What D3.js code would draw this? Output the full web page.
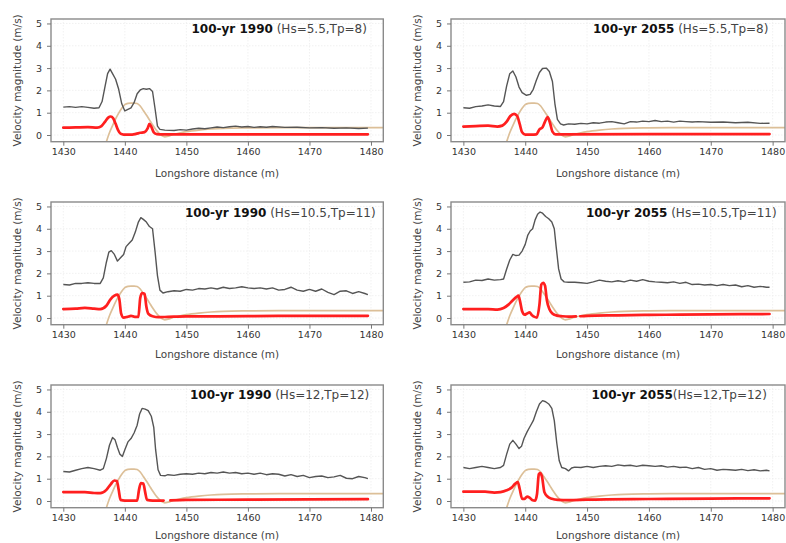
<!DOCTYPE html>
<html>
<head>
<meta charset="utf-8">
<script src="https://cdn.jsdelivr.net/npm/d3@7"></script>
<style>
  html, body { margin: 0; padding: 0; background: #fff; }
  svg { display: block; }
  text { font-family: "DejaVu Sans", Verdana, sans-serif; }
</style>
</head>
<body>
<svg id="chart" width="786" height="543"></svg>
<script>
// ---------------- DATA ----------------
const xTicks = [1430, 1440, 1450, 1460, 1470, 1480];
const yTicks = [0, 1, 2, 3, 4, 5];
const xLabel = "Longshore distance (m)";
const yLabel = "Velocity magnitude (m/s)";

const titlesBold = ["100-yr 1990", "100-yr 2055", "100-yr 1990", "100-yr 2055", "100-yr 1990", "100-yr 2055"];
const titlesRest = [" (Hs=5.5,Tp=8)", " (Hs=5.5,Tp=8)", " (Hs=10.5,Tp=11)", " (Hs=10.5,Tp=11)", " (Hs=12,Tp=12)", "(Hs=12,Tp=12)"];

// reef / bed profile (tan), shared by all panels
const profile = [[1437,-0.3],[1437.5,0.1],[1438,0.42],[1438.5,0.72],[1439,0.98],[1439.5,1.2],[1440,1.36],[1440.5,1.42],[1441,1.43],[1441.5,1.43],[1442,1.41],[1442.5,1.3],[1443,1.1],[1443.5,0.9],[1444,0.68],[1444.5,0.46],[1445,0.26],[1445.5,0.1],[1446,-0.02],[1446.5,-0.08],[1447,-0.05],[1448,0.04],[1449,0.1],[1450,0.15],[1452,0.22],[1454,0.27],[1456,0.3],[1460,0.32],[1465,0.33],[1470,0.33],[1475,0.33],[1482,0.33]];

// velocity magnitude (grey) per panel
const vel1990_55 = [[1430,1.25],[1431,1.27],[1432,1.24],[1433,1.27],[1434,1.24],[1435,1.2],[1435.8,1.22],[1436.3,1.5],[1436.8,2.2],[1437.2,2.75],[1437.6,2.95],[1438,2.75],[1438.5,2.5],[1439,2.05],[1439.5,1.4],[1440,1.08],[1440.5,1.15],[1441,1.22],[1441.5,1.45],[1442,1.85],[1442.5,2.02],[1443,2.08],[1443.5,2.05],[1444,2.08],[1444.5,1.95],[1444.9,1.2],[1445.3,0.4],[1445.7,0.25],[1446.5,0.22],[1448,0.2],[1449,0.24],[1450,0.22],[1451,0.27],[1452,0.3],[1453,0.28],[1454,0.32],[1455,0.36],[1456,0.33],[1457,0.37],[1458,0.4],[1459,0.36],[1460,0.38],[1461,0.34],[1462,0.37],[1463,0.35],[1464,0.38],[1466,0.34],[1468,0.35],[1470,0.32],[1472,0.33],[1474,0.3],[1476,0.32],[1478,0.29],[1479.5,0.31]];
const vel2055_55 = [[1430,1.22],[1431,1.2],[1432,1.27],[1433,1.3],[1434,1.35],[1435,1.3],[1436,1.28],[1436.5,1.5],[1437,2.2],[1437.5,2.75],[1438,2.87],[1438.5,2.6],[1439,2.15],[1439.5,1.9],[1440.2,1.78],[1440.8,1.82],[1441.3,2.05],[1441.8,2.45],[1442.3,2.8],[1442.8,2.98],[1443.4,3.0],[1443.9,2.85],[1444.4,2.4],[1444.8,1.4],[1445.2,0.7],[1445.7,0.5],[1446.2,0.45],[1447,0.5],[1448,0.48],[1449,0.52],[1450,0.5],[1451,0.55],[1452,0.53],[1453,0.58],[1454,0.6],[1455,0.55],[1456,0.5],[1457,0.6],[1458,0.58],[1459,0.62],[1460,0.6],[1461,0.65],[1462,0.6],[1463,0.62],[1464,0.58],[1465,0.62],[1466,0.6],[1467,0.58],[1468,0.6],[1470,0.57],[1472,0.58],[1474,0.55],[1476,0.57],[1478,0.52],[1479.5,0.53]];
const vel1990_105 = [[1430,1.5],[1431,1.48],[1432,1.55],[1433,1.55],[1434,1.58],[1435,1.55],[1436,1.55],[1436.5,1.8],[1437,2.5],[1437.4,2.95],[1437.8,3.02],[1438.3,2.85],[1438.8,2.55],[1439.3,2.7],[1439.8,2.85],[1440.2,3.2],[1440.7,3.35],[1441.2,3.5],[1441.7,3.85],[1442.2,4.3],[1442.6,4.5],[1443,4.42],[1443.5,4.3],[1444,4.1],[1444.5,4.0],[1444.9,3.0],[1445.3,1.9],[1445.7,1.25],[1446.2,1.12],[1447,1.18],[1448,1.22],[1449,1.2],[1450,1.28],[1451,1.25],[1452,1.32],[1453,1.3],[1454,1.35],[1455,1.3],[1456,1.38],[1457,1.32],[1458,1.35],[1459,1.4],[1460,1.35],[1461,1.32],[1462,1.35],[1463,1.3],[1464,1.35],[1465,1.25],[1466,1.28],[1467,1.38],[1468,1.25],[1469,1.2],[1470,1.28],[1471,1.2],[1472,1.3],[1473,1.15],[1474,1.05],[1475,1.2],[1476,1.22],[1477,1.1],[1478,1.18],[1479,1.1],[1479.5,1.05]];
const vel2055_105 = [[1430,1.6],[1431,1.62],[1432,1.7],[1433,1.68],[1434,1.75],[1435,1.7],[1436,1.72],[1436.5,1.75],[1437,2.2],[1437.5,2.6],[1438,2.85],[1438.5,2.8],[1439,2.82],[1439.5,3.0],[1440,3.3],[1440.4,3.7],[1440.8,3.9],[1441.2,4.0],[1441.6,4.4],[1442,4.65],[1442.4,4.75],[1442.8,4.7],[1443.3,4.55],[1443.8,4.45],[1444.3,4.3],[1444.7,4.0],[1445,3.2],[1445.4,2.2],[1445.8,1.75],[1446.3,1.62],[1447,1.6],[1448,1.6],[1449,1.58],[1450,1.55],[1451,1.62],[1452,1.7],[1453,1.65],[1454,1.62],[1455,1.67],[1456,1.62],[1457,1.7],[1458,1.65],[1459,1.72],[1460,1.65],[1461,1.62],[1462,1.6],[1463,1.58],[1464,1.62],[1465,1.55],[1466,1.6],[1467,1.5],[1468,1.52],[1469,1.48],[1470,1.5],[1471,1.45],[1472,1.5],[1473,1.45],[1474,1.48],[1475,1.4],[1476,1.45],[1477,1.38],[1478,1.42],[1479,1.38],[1479.5,1.38]];
const vel1990_12 = [[1430,1.32],[1431,1.3],[1432,1.38],[1433,1.45],[1434,1.5],[1435,1.45],[1436,1.38],[1436.5,1.45],[1437,1.9],[1437.5,2.5],[1438,2.85],[1438.4,2.75],[1438.8,2.4],[1439.2,2.1],[1439.6,2.0],[1440,2.3],[1440.5,2.65],[1441,2.8],[1441.5,3.05],[1442,3.4],[1442.4,3.9],[1442.8,4.15],[1443.3,4.12],[1443.8,4.05],[1444.3,3.8],[1444.7,3.3],[1445,2.3],[1445.4,1.4],[1445.8,1.15],[1446.5,1.13],[1447,1.18],[1448,1.15],[1449,1.2],[1450,1.22],[1451,1.2],[1452,1.25],[1453,1.22],[1454,1.28],[1455,1.25],[1456,1.3],[1457,1.25],[1458,1.28],[1459,1.22],[1460,1.25],[1461,1.2],[1462,1.25],[1463,1.18],[1464,1.22],[1465,1.2],[1466,1.12],[1467,1.18],[1468,1.1],[1469,1.15],[1470,1.05],[1471,1.1],[1472,1.12],[1473,1.05],[1474,1.08],[1475,1.15],[1476,1.02],[1477,1.0],[1478,1.1],[1479,1.05],[1479.5,1.0]];
const vel2055_12 = [[1430,1.5],[1431,1.45],[1432,1.5],[1433,1.55],[1434,1.5],[1435,1.45],[1436,1.5],[1436.5,1.6],[1437,2.1],[1437.5,2.55],[1438,2.72],[1438.5,2.55],[1439,2.35],[1439.4,2.45],[1439.8,2.8],[1440.3,3.1],[1440.8,3.35],[1441.3,3.6],[1441.8,4.0],[1442.3,4.35],[1442.8,4.5],[1443.3,4.45],[1443.8,4.35],[1444.3,4.15],[1444.7,3.6],[1445.1,2.6],[1445.5,1.8],[1445.9,1.5],[1446.5,1.45],[1447,1.35],[1447.5,1.48],[1448,1.52],[1449,1.5],[1450,1.55],[1451,1.5],[1452,1.55],[1453,1.58],[1454,1.55],[1455,1.62],[1456,1.58],[1457,1.6],[1458,1.55],[1459,1.6],[1460,1.58],[1461,1.55],[1462,1.58],[1463,1.52],[1464,1.55],[1465,1.5],[1466,1.52],[1467,1.45],[1468,1.5],[1469,1.42],[1470,1.45],[1471,1.38],[1472,1.42],[1473,1.4],[1474,1.38],[1475,1.42],[1476,1.36],[1477,1.4],[1478,1.35],[1479,1.38],[1479.5,1.35]];

// second velocity series (red) per panel; null = gap
const red1990_55 = [[1430,0.33],[1432,0.34],[1434,0.35],[1435.5,0.33],[1436.2,0.4],[1436.8,0.6],[1437.3,0.78],[1437.7,0.83],[1438.1,0.75],[1438.5,0.5],[1438.9,0.22],[1439.3,0.06],[1439.8,0.02],[1440.5,0.02],[1441.2,0.02],[1441.8,0.05],[1442.5,0.1],[1443.2,0.13],[1443.7,0.3],[1444,0.5],[1444.3,0.38],[1444.7,0.12],[1445.2,0.04],[1446,0.03],[1450,0.03],[1460,0.03],[1470,0.03],[1479.5,0.03]];
const red2055_55 = [[1430,0.38],[1432,0.4],[1434,0.42],[1435.5,0.38],[1436.3,0.42],[1437,0.6],[1437.6,0.85],[1438.2,0.95],[1438.7,0.85],[1439.1,0.5],[1439.5,0.12],[1440,0.02],[1441,0.02],[1441.8,0.03],[1442.3,0.25],[1442.8,0.35],[1443.2,0.6],[1443.6,0.8],[1444,0.55],[1444.4,0.15],[1444.9,0.03],[1446,0.03],[1460,0.04],[1479.5,0.04]];
const red1990_105 = [[1430,0.4],[1432,0.42],[1433.5,0.45],[1435,0.42],[1436,0.4],[1437,0.55],[1437.7,0.85],[1438.3,1.0],[1438.8,1.05],[1439.1,0.85],[1439.4,0.2],[1439.8,0.02],[1440.4,0.05],[1441,0.1],[1441.6,0.05],[1442.2,0.05],[1442.5,0.9],[1442.8,1.12],[1443.2,1.08],[1443.5,0.5],[1443.8,0.2],[1444.5,0.08],[1445.5,0.04],[1447,0.05],[1450,0.07],[1460,0.08],[1470,0.1],[1479.5,0.1]];
const red2055_105 = [[1430,0.4],[1432,0.4],[1434,0.4],[1435.5,0.38],[1436.5,0.45],[1437.3,0.6],[1438,0.8],[1438.6,0.95],[1438.9,1.0],[1439.2,0.7],[1439.5,0.3],[1439.9,0.15],[1440.3,0.2],[1440.7,0.25],[1441.1,0.12],[1441.5,0.05],[1441.9,0.02],[1442.3,0.6],[1442.6,1.5],[1442.9,1.58],[1443.2,1.45],[1443.5,0.8],[1443.9,0.4],[1444.4,0.2],[1445,0.12],[1446,0.08],[1447,0.06],[1448.2,0.07],[1448.5,null],[1448.9,0.08],[1450,0.1],[1455,0.12],[1460,0.14],[1465,0.15],[1470,0.16],[1475,0.17],[1479.5,0.18]];
const red1990_12 = [[1430,0.4],[1432,0.4],[1433.5,0.4],[1435,0.36],[1436,0.35],[1437,0.5],[1437.7,0.75],[1438.3,0.92],[1438.7,0.9],[1439,0.5],[1439.3,0.05],[1440,0.02],[1441,0.02],[1442,0.02],[1442.3,0.5],[1442.6,0.8],[1443,0.78],[1443.3,0.4],[1443.6,0.05],[1444.5,0.02],[1446.3,0.02],[1446.9,null],[1447.4,0.03],[1450,0.05],[1460,0.06],[1470,0.07],[1479.5,0.08]];
const red2055_12 = [[1430,0.42],[1432,0.42],[1433.5,0.42],[1435,0.38],[1436,0.4],[1437,0.48],[1437.8,0.6],[1438.4,0.78],[1438.8,0.85],[1439.1,0.55],[1439.5,0.1],[1439.9,0.1],[1440.3,0.2],[1440.7,0.15],[1441.1,0.05],[1441.6,0.02],[1441.9,0.3],[1442.2,1.2],[1442.4,1.25],[1442.7,1.1],[1443.1,0.4],[1443.6,0.2],[1444.3,0.1],[1445.3,0.05],[1447,0.04],[1450,0.06],[1460,0.09],[1470,0.11],[1479.5,0.12]];

const velSeries = [vel1990_55, vel2055_55, vel1990_105, vel2055_105, vel1990_12, vel2055_12];
const redSeries = [red1990_55, red2055_55, red1990_105, red2055_105, red1990_12, red2055_12];

// ---------------- LAYOUT ----------------
const colRange = [[51.0, 383.3], [451.0, 785.0]];   // pixel range for x domain [1428,1482]
const rowTop = [19.0, 202.0, 385.0];                 // pixel for y = 5.2
const rowBot = [141.7, 324.7, 507.7];                // pixel for y = -0.3
const xLabelGap = [35, 33, 31];
const titleX = [191.5, 200, 185, 193, 190, 198.5];   // offset of title start from column origin
const titleY = [33, 33, 217, 217, 399, 399];
const colOrigin = [0, 393];

const svg = d3.select("#chart");

for (let i = 0; i < 6; i++) {
  const c = i % 2, r = Math.floor(i / 2);
  const x = d3.scaleLinear().domain([1428, 1482]).range(colRange[c]);
  const y = d3.scaleLinear().domain([-0.3, 5.2]).range([rowBot[r], rowTop[r]]);
  const g = svg.append("g");

  // faint grid
  g.selectAll(".gx").data(xTicks).join("line")
    .attr("x1", d => x(d)).attr("x2", d => x(d))
    .attr("y1", y(5.2)).attr("y2", y(-0.3))
    .attr("stroke", "#ededed").attr("stroke-width", 0.8).attr("stroke-dasharray", "1.5,1.5");
  g.selectAll(".gy").data(yTicks).join("line")
    .attr("x1", x(1428)).attr("x2", x(1482))
    .attr("y1", d => y(d)).attr("y2", d => y(d))
    .attr("stroke", "#ededed").attr("stroke-width", 0.8).attr("stroke-dasharray", "1.5,1.5");

  // tan profile
  g.append("path")
    .attr("d", d3.line().x(d => x(d[0])).y(d => y(d[1])).curve(d3.curveMonotoneX)(profile))
    .attr("fill", "none").attr("stroke", "#dcbf98").attr("stroke-width", 1.7);

  // grey velocity
  g.append("path")
    .attr("d", d3.line().x(d => x(d[0])).y(d => y(d[1]))(velSeries[i]))
    .attr("fill", "none").attr("stroke", "#555").attr("stroke-width", 1.4)
    .attr("stroke-linejoin", "round");

  // red velocity
  g.append("path")
    .attr("d", d3.line().defined(d => d[1] !== null).x(d => x(d[0])).y(d => y(d[1])).curve(d3.curveMonotoneX)(redSeries[i]))
    .attr("fill", "none").attr("stroke", "#ff1f1f").attr("stroke-width", 2.7)
    .attr("stroke-linejoin", "round").attr("stroke-linecap", "round");

  // box
  g.append("rect")
    .attr("x", x(1428)).attr("y", y(5.2))
    .attr("width", x(1482) - x(1428)).attr("height", y(-0.3) - y(5.2))
    .attr("fill", "none").attr("stroke", "#8a8a8a").attr("stroke-width", 1.4);

  // axes
  const ax = g.append("g").attr("transform", `translate(0,${y(-0.3)})`)
    .call(d3.axisBottom(x).tickValues(xTicks).tickFormat(d3.format("d")).tickSize(4).tickPadding(3));
  const ay = g.append("g").attr("transform", `translate(${x(1428)},0)`)
    .call(d3.axisLeft(y).tickValues(yTicks).tickFormat(d3.format("d")).tickSize(4).tickPadding(5));
  [ax, ay].forEach(a => {
    a.select(".domain").remove();
    a.selectAll("line").attr("stroke", "#777").attr("stroke-width", 1);
    a.selectAll("text").attr("fill", "#333").style("font-size", "9.5px")
      .style("font-family", '"DejaVu Sans", sans-serif');
  });

  // axis labels
  g.append("text")
    .attr("x", (x(1428) + x(1482)) / 2).attr("y", y(-0.3) + xLabelGap[r])
    .attr("text-anchor", "middle").attr("fill", "#444").style("font-size", "10.5px")
    .text(xLabel);
  g.append("text")
    .attr("transform", `translate(${x(1428) - 30},${(y(5.2) + y(-0.3)) / 2}) rotate(-90)`)
    .attr("text-anchor", "middle").attr("fill", "#444").style("font-size", "10.5px")
    .text(yLabel);

  // title
  const t = g.append("text")
    .attr("x", colOrigin[c] + titleX[i]).attr("y", titleY[i])
    .style("font-size", "12px");
  t.append("tspan").attr("font-weight", "bold").attr("fill", "#111").text(titlesBold[i]);
  t.append("tspan").attr("fill", "#444").text(titlesRest[i]);
}
</script>
</body>
</html>
